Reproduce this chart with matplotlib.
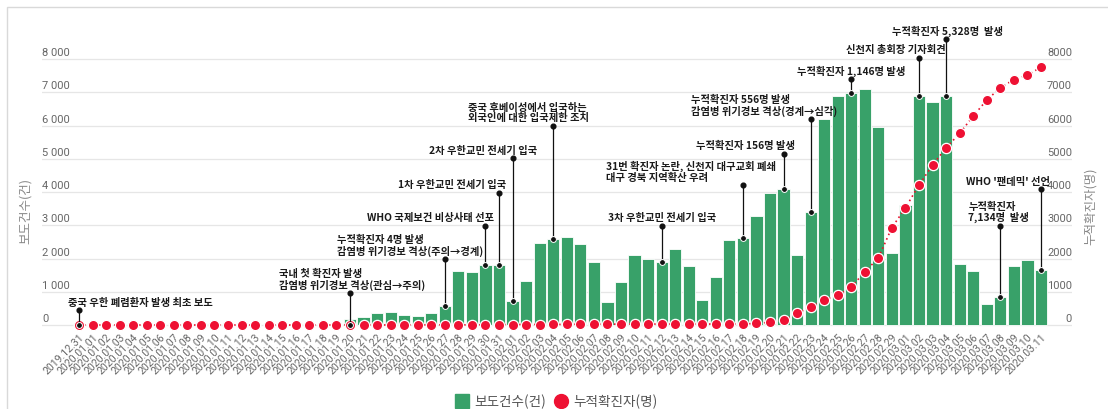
import pandas as pd
import matplotlib
matplotlib.use("Agg")
import matplotlib.pyplot as plt
import matplotlib.transforms as mtransforms
from matplotlib.lines import Line2D
from matplotlib.patches import Rectangle

plt.rcParams['font.family'] = ['Noto Sans CJK KR', 'DejaVu Sans']

# --- data ---------------------------------------------------------------
dates = pd.date_range('2019-12-31', '2020-03-11').strftime('%Y.%m.%d').tolist()

news_counts = [
    10,                                                     # 2019.12.31
    5, 4, 8, 6, 7, 9, 10, 25, 30, 20, 15, 12, 14, 15, 12, 18, 15, 10, 12,  # 01.01-01.19
    180, 250, 350, 400, 300, 270, 370, 570, 1630, 1600, 1800, 1800,        # 01.20-01.31
    720, 1320, 2480, 2600, 2650, 2450, 1900, 700, 1300, 2120, 1980, 1900,  # 02.01-02.12
    2290, 1760, 750, 1430, 2560, 2630, 3290, 3960, 4100, 2110, 3390,       # 02.13-02.23
    6200, 6890, 6970, 7100, 5950, 2170,                                    # 02.24-02.29
    3600, 6900, 6720, 6890, 1830, 1610, 620, 850, 1760, 1950, 1660,        # 03.01-03.11
]

confirmed = [
    0,
    0, 0, 0, 0, 0, 0, 0, 0, 0, 0, 0, 0, 0, 0, 0, 0, 0, 0, 0,
    1, 1, 1, 1, 2, 2, 3, 4, 4, 4, 6, 11,
    12, 15, 15, 16, 19, 23, 24, 24, 27, 27, 28, 28,
    28, 28, 28, 29, 30, 31, 46, 82, 156, 346, 556,
    763, 893, 1146, 1595, 2022, 2931,
    3526, 4212, 4812, 5328, 5766, 6284, 6767, 7134, 7382, 7513, 7755,
]

yticks = [0, 1000, 2000, 3000, 4000, 5000, 6000, 7000, 8000]

# events: date, series the pin sits on, label
event_dates = ['2019.12.31', '2020.01.20', '2020.01.27', '2020.01.30', '2020.01.31',
               '2020.02.01', '2020.02.04', '2020.02.12', '2020.02.18', '2020.02.21',
               '2020.02.23', '2020.02.26', '2020.03.02', '2020.03.04', '2020.03.08',
               '2020.03.11']
event_series = ['cum', 'cum', 'bar', 'bar', 'bar', 'bar', 'bar', 'bar', 'bar', 'bar',
                'bar', 'bar', 'bar', 'bar', 'bar', 'bar']
event_labels = [
    '중국 우한 폐렴환자 발생 최초 보도',
    '국내 첫 확진자 발생\n감염병 위기경보 격상(관심→주의)',
    '누적확진자 4명 발생\n감염병 위기경보 격상(주의→경계)',
    'WHO 국제보건 비상사태 선포',
    '1차 우한교민 전세기 입국',
    '2차 우한교민 전세기 입국',
    '중국 후베이성에서 입국하는\n외국인에 대한 입국제한 조치',
    '3차 우한교민 전세기 입국',
    '31번 확진자 논란, 신천지 대구교회 폐쇄\n대구 경북 지역확산 우려',
    '누적확진자 156명 발생',
    '누적확진자 556명 발생\n감염병 위기경보 격상(경계→심각)',
    '누적확진자 1,146명 발생',
    '신천지 총회장 기자회견',
    '누적확진자 5,328명  발생',
    '누적확진자\n7,134명  발생',
    "WHO '팬데믹' 선언",
]

# layout of the pins: height of the pin head (axis units) and label shift (px)
pin_tops = [450, 960, 1975, 2980, 3980, 5010, 5995, 2985, 4210, 5150,
            6195, 7390, 8040, 8590, 2980, 4080]
label_dx = [-11, -71, -108, -118, -101, -84, -85, -54, -137, -88,
            -120, -54, -73, -54, -32, -75]

# --- figure -------------------------------------------------------------
W, H = 1108, 409
fig = plt.figure(figsize=(W / 100, H / 100), dpi=100)
fig.patch.set_facecolor('white')
fig.add_artist(Rectangle((7 / W, -0.1), 1.2, (H - 7) / H + 0.1, transform=fig.transFigure,
                         fill=False, edgecolor='#d9d9d9', linewidth=1.0))

ax = fig.add_axes([42 / W, 0.19562, 1030 / W, 0.78206])
x = list(range(len(dates)))

ax.bar(x, news_counts, width=0.9, color='#38a169', edgecolor='white',
       linewidth=0.6, zorder=2)
ax.plot(x, confirmed, color='#e8112d', linestyle=(0, (1, 2)), linewidth=1.2,
        marker='o', markersize=7.4, markerfacecolor='#ee1133',
        markeredgecolor='white', markeredgewidth=0.9, zorder=3, clip_on=False)

ax.set_xlim(-2.731, 73.29)
ax.set_ylim(-120, 9500)
ax.set_yticks(yticks)
ax.set_yticklabels([])
ax.tick_params(axis='y', length=0)
ax.grid(axis='y', color='#e6e6e6', linewidth=0.9, zorder=0)
ax.set_axisbelow(True)
for s in ax.spines.values():
    s.set_visible(False)

ax.set_xticks(x)
ax.set_xticklabels(dates, rotation=45, ha='right', rotation_mode='anchor',
                   fontsize=7.6, color='#666666', family=['Roboto', 'DejaVu Sans'])
ax.tick_params(axis='x', length=0, pad=2)

# y labels sit above their grid lines, inside the plot area
left_tr = mtransforms.blended_transform_factory(ax.transAxes, ax.transData)
for v in yticks:
    ax.annotate(f'{v:,}'.replace(',', ' '), xy=(0, v), xycoords=left_tr,
                xytext=(0, 1), textcoords='offset pixels', ha='left', va='bottom',
                fontsize=8, color='#666666', family=['Roboto', 'DejaVu Sans'])
    ax.annotate(f'{v}', xy=(1, v), xycoords=left_tr,
                xytext=(0, 1), textcoords='offset pixels', ha='right', va='bottom',
                fontsize=8, color='#666666', family=['Roboto', 'DejaVu Sans'])

fig.text(25 / W, 1 - 211 / H, '보도건수(건)', rotation=90, ha='center', va='center',
         fontsize=9, color='#888888')
fig.text(1090 / W, 1 - 206 / H, '누적확진자(명)', rotation=90, ha='center', va='center',
         fontsize=9, color='#888888')

# event pins
for d, ser, lab, top, dx in zip(event_dates, event_series, event_labels, pin_tops, label_dx):
    i = dates.index(d)
    y0 = confirmed[i] if ser == 'cum' else news_counts[i]
    ax.plot([i, i], [y0, top], color='#111111', linewidth=0.9, zorder=5, clip_on=False)
    ax.plot(i, y0, 'o', color='#111111', markersize=4.2, markeredgecolor='white',
            markeredgewidth=0.7, zorder=6, clip_on=False)
    ax.plot(i, top, 'o', color='#111111', markersize=3.4, zorder=6, clip_on=False)
    ax.annotate(lab, xy=(i, top), xytext=(dx, 2.5), textcoords='offset pixels',
                ha='left', va='bottom', fontsize=7.4, fontweight='bold',
                color='#1a1a1a', linespacing=1.05, zorder=7)

handles = [
    Line2D([], [], linestyle='none', marker='s', markersize=9.5, color='#38a169'),
    Line2D([], [], linestyle='none', marker='o', markersize=10, color='#ee1133'),
]
fig.legend(handles, ['보도건수(건)', '누적확진자(명)'], loc='center',
           bbox_to_anchor=(0.502, 0.018), ncol=2, frameon=False, fontsize=9.8,
           labelcolor='#555555', handletextpad=0.4, columnspacing=0.6,
           handlelength=1.0)

fig.savefig('out.png', dpi=100)
